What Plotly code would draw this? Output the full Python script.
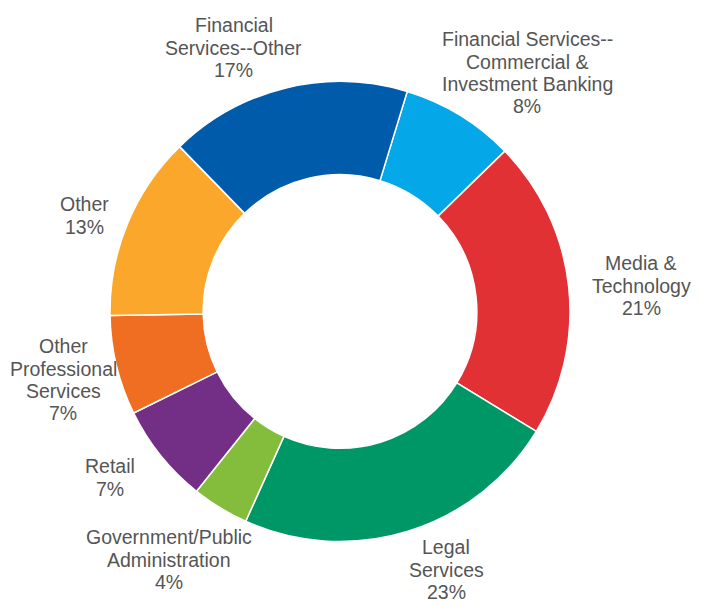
import plotly.graph_objects as go

# ---------------------------------------------------------
# Data
# ---------------------------------------------------------
labels = [
    "Financial Services--Commercial & Investment Banking",
    "Media & Technology",
    "Legal Services",
    "Government/Public Administration",
    "Retail",
    "Other Professional Services",
    "Other",
    "Financial Services--Other",
]
values = [8, 21, 23, 4, 7, 7, 13, 17]

# how each label is broken into lines
label_lines = [
    ["Financial Services--", "Commercial &", "Investment Banking"],
    ["Media &", "Technology"],
    ["Legal", "Services"],
    ["Government/Public", "Administration"],
    ["Retail"],
    ["Other", "Professional", "Services"],
    ["Other"],
    ["Financial", "Services--Other"],
]

colors = ["#04A7E8", "#E23134", "#009767", "#84BD3B",
          "#732E86", "#F06E21", "#FBA72C", "#005BAA"]

# ---------------------------------------------------------
# Layout settings
# ---------------------------------------------------------
W, H = 701, 612          # browser window
OFF = 8                  # default page body margin
FW, FH = W - 2 * OFF, H - 2 * OFF
FONT = "Liberation Sans, Arial, Helvetica, sans-serif"
TEXT_COLOR = "#555555"
FONT_SIZE = 19.5
LINE_GAP = 22.5

# pie centre / radius in window pixels
CX, CY, R = 340, 311.5, 230

# label block anchors (x centre, y of first line) in window pixels
label_pos = [
    (527, 39),
    (641, 263),
    (446, 547),
    (169, 537),
    (110, 466),
    (63, 346),
    (84, 204),
    (234, 25),
]


def px_x(x):
    return (x - OFF) / FW


def px_y(y):
    return 1 - (y - OFF) / FH


fig = go.Figure()

fig.add_trace(go.Pie(
    labels=labels,
    values=values,
    hole=0.595,
    sort=False,
    direction="clockwise",
    rotation=17,
    textinfo="none",
    hoverinfo="label+percent",
    marker=dict(colors=colors, line=dict(color="white", width=1.5)),
    domain=dict(x=[px_x(CX - R), px_x(CX + R)],
                y=[px_y(CY + R), px_y(CY - R)]),
    showlegend=False,
))

total = sum(values)
annotations = []
for lines, v, (px, py) in zip(label_lines, values, label_pos):
    all_lines = lines + [f"{v / total * 100:.0f}%"]
    for i, line in enumerate(all_lines):
        annotations.append(dict(
            text=line,
            x=px_x(px), y=px_y(py + i * LINE_GAP),
            xref="paper", yref="paper",
            xanchor="center", yanchor="middle",
            showarrow=False,
            font=dict(family=FONT, size=FONT_SIZE, color=TEXT_COLOR),
        ))

fig.update_layout(
    width=FW,
    height=FH,
    margin=dict(l=0, r=0, t=0, b=0),
    paper_bgcolor="white",
    plot_bgcolor="white",
    annotations=annotations,
)

fig.write_html("out.html")
